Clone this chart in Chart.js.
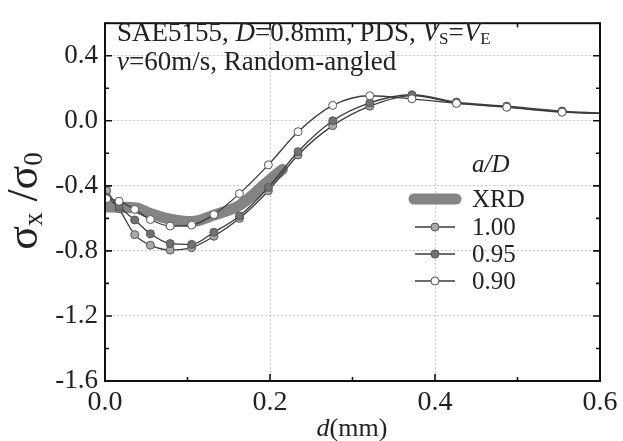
<!DOCTYPE html>
<html>
<head>
<meta charset="utf-8">
<script src="https://cdn.jsdelivr.net/npm/chart.js@4.4.1/dist/chart.umd.min.js"></script>
<style>
  html, body { margin: 0; padding: 0; background: #fff; }
  #chart { display: block; }
</style>
</head>
<body>
<canvas id="chart" width="623" height="441"></canvas>
<script>
// depth positions of the calculated points (mm)
const depth = [0.002, 0.017, 0.036, 0.055, 0.079, 0.105, 0.132, 0.163, 0.198, 0.234, 0.276, 0.321, 0.372, 0.426, 0.487, 0.554, 0.6];

// sigma_x / sigma_0 for each a/D
const ratio100 = [-0.43, -0.54, -0.70, -0.765, -0.795, -0.78, -0.71, -0.60, -0.43, -0.21, -0.03, 0.09, 0.155, 0.11, 0.085, 0.055, 0.045];
const ratio095 = [-0.47, -0.53, -0.61, -0.695, -0.755, -0.76, -0.685, -0.585, -0.41, -0.19, 0.0, 0.11, 0.16, 0.115, 0.09, 0.06, 0.048];
const ratio090 = [-0.48, -0.495, -0.545, -0.607, -0.647, -0.641, -0.577, -0.448, -0.271, -0.067, 0.095, 0.154, 0.135, 0.107, 0.083, 0.053, 0.045];

// measured (XRD) band
const xrdDepth = [0.0, 0.036, 0.055, 0.079, 0.105, 0.132, 0.163, 0.198, 0.215];
const xrdRatio = [-0.53, -0.535, -0.57, -0.605, -0.62, -0.58, -0.52, -0.37, -0.30];

const seriesLabels = ["XRD", "1.00", "0.95", "0.90"];
const xTicks = [0.0, 0.2, 0.4, 0.6];
const yTicks = [-1.6, -1.2, -0.8, -0.4, 0.0, 0.4];

const SERIF = "'Liberation Serif', 'Times New Roman', serif";
const lineColor = "#3c3c3c";

const pts = (xs, ys) => xs.map((x, i) => ({ x: x, y: ys[i] }));
const lastHidden = (ctx) => (ctx.dataIndex === depth.length - 1 ? 0 : 4);

const datasets = [
  {
    label: seriesLabels[0], data: pts(xrdDepth, xrdRatio),
    borderColor: "#848484", borderWidth: 11, borderCapStyle: "round",
    pointRadius: 0, cubicInterpolationMode: "monotone", order: 4
  },
  {
    label: seriesLabels[1], data: pts(depth, ratio100),
    borderColor: lineColor, borderWidth: 1.3, pointBackgroundColor: "#a9a9a9",
    pointBorderColor: "#555", pointBorderWidth: 1, pointRadius: lastHidden,
    cubicInterpolationMode: "monotone", order: 3
  },
  {
    label: seriesLabels[2], data: pts(depth, ratio095),
    borderColor: lineColor, borderWidth: 1.3, pointBackgroundColor: "#727272",
    pointBorderColor: "#555", pointBorderWidth: 1, pointRadius: lastHidden,
    cubicInterpolationMode: "monotone", order: 2
  },
  {
    label: seriesLabels[3], data: pts(depth, ratio090),
    borderColor: lineColor, borderWidth: 1.3, pointBackgroundColor: "#ffffff",
    pointBorderColor: "#555", pointBorderWidth: 1, pointRadius: lastHidden,
    cubicInterpolationMode: "monotone", order: 1
  }
];

// write a row of text pieces (normal / italic / subscript) starting at x
function drawRuns(ctx, x, y, runs, size) {
  for (const r of runs) {
    const fs = r.sub ? Math.round(size * 0.62) : size;
    ctx.font = (r.italic ? "italic " : "") + fs + "px " + SERIF;
    ctx.fillText(r.t, x, r.sub ? y + size * 0.12 : y);
    x += ctx.measureText(r.t).width;
  }
  return x;
}
function runsWidth(ctx, runs, size) {
  let w = 0;
  for (const r of runs) {
    const fs = r.sub ? Math.round(size * 0.62) : size;
    ctx.font = (r.italic ? "italic " : "") + fs + "px " + SERIF;
    w += ctx.measureText(r.t).width;
  }
  return w;
}

const decor = {
  id: "decor",
  afterDraw(chart) {
    const ctx = chart.ctx;
    const a = chart.chartArea;
    const xs = chart.scales.x, ys = chart.scales.y;
    ctx.save();

    // frame and inward ticks
    ctx.strokeStyle = "#111";
    ctx.lineWidth = 2;
    ctx.strokeRect(a.left, a.top, a.right - a.left, a.bottom - a.top);
    ctx.lineWidth = 1.6;
    ctx.beginPath();
    for (let v = 0; v <= 0.6001; v += 0.1) {
      const px = xs.getPixelForValue(v);
      const len = Math.round(v * 10) % 2 === 0 ? 7 : 4;
      ctx.moveTo(px, a.bottom); ctx.lineTo(px, a.bottom - len);
      ctx.moveTo(px, a.top); ctx.lineTo(px, a.top + len);
    }
    for (let v = -1.6; v <= 0.6001; v += 0.2) {
      const py = ys.getPixelForValue(v);
      const len = Math.round((v + 1.6) * 5) % 2 === 0 ? 7 : 4;
      ctx.moveTo(a.left, py); ctx.lineTo(a.left + len, py);
      ctx.moveTo(a.right, py); ctx.lineTo(a.right - len, py);
    }
    ctx.stroke();

    ctx.fillStyle = "#222";
    ctx.textBaseline = "alphabetic";
    ctx.textAlign = "left";

    // annotation in the upper left corner
    drawRuns(ctx, 117, 41, [
      { t: "SAE5155, " }, { t: "D", italic: true }, { t: "=0.8mm, PDS, " },
      { t: "V", italic: true }, { t: "S", sub: true }, { t: "=" },
      { t: "V", italic: true }, { t: "E", sub: true }
    ], 27);
    drawRuns(ctx, 117, 70, [{ t: "v", italic: true }, { t: "=60m/s, Random-angled" }], 27);

    // x title
    const xt = [{ t: "d", italic: true }, { t: "(mm)" }];
    drawRuns(ctx, 352 - runsWidth(ctx, xt, 26) / 2, 436, xt, 26);

    // y title, rotated
    ctx.save();
    ctx.translate(37, 201);
    ctx.rotate(-Math.PI / 2);
    const yt = [{ t: "\u03C3" }, { t: "x", sub: true }, { t: " /" }, { t: "\u03C3" }, { t: "0", sub: true }];
    const w = runsWidth(ctx, yt, 44);
    drawRuns(ctx, -w / 2, 0, yt, 44);
    ctx.restore();

    // legend
    ctx.font = "italic 25px " + SERIF;
    ctx.fillText("a/D", 472, 172);
    const rows = [199, 227, 254, 281];
    chart.data.datasets.forEach((ds, i) => {
      const y = rows[i];
      ctx.beginPath();
      if (i === 0) {
        ctx.lineWidth = ds.borderWidth;
        ctx.lineCap = "round";
        ctx.strokeStyle = ds.borderColor;
        ctx.moveTo(414, y); ctx.lineTo(456, y);
        ctx.stroke();
      } else {
        ctx.lineWidth = ds.borderWidth;
        ctx.lineCap = "butt";
        ctx.strokeStyle = ds.borderColor;
        ctx.moveTo(415, y); ctx.lineTo(455, y);
        ctx.stroke();
        ctx.beginPath();
        ctx.arc(435, y, 4, 0, Math.PI * 2);
        ctx.fillStyle = ds.pointBackgroundColor;
        ctx.fill();
        ctx.lineWidth = 1;
        ctx.strokeStyle = ds.pointBorderColor;
        ctx.stroke();
      }
      ctx.fillStyle = "#222";
      ctx.font = "25px " + SERIF;
      ctx.textBaseline = "middle";
      ctx.fillText(ds.label, 472, y + 1);
      ctx.textBaseline = "alphabetic";
    });
    ctx.restore();
  }
};

new Chart(document.getElementById("chart"), {
  type: "line",
  data: { datasets: datasets },
  plugins: [decor],
  options: {
    responsive: false,
    animation: false,
    layout: { padding: { left: 0, right: 23, top: 11, bottom: 0 } },
    plugins: { legend: { display: false }, tooltip: { enabled: false } },
    scales: {
      x: {
        type: "linear", min: 0, max: 0.6,
        afterFit: (s) => { s.height = 60; },
        afterBuildTicks: (s) => { s.ticks = xTicks.map((v) => ({ value: v })); },
        grid: { color: (c) => (c.tick.value > 0 && c.tick.value < 0.6 ? "#c8c8c8" : "rgba(0,0,0,0)"), drawTicks: false, lineWidth: 1 },
        border: { display: false, dash: [2, 2] },
        ticks: { color: "#222", padding: 5, maxRotation: 0, font: { family: SERIF, size: 28 }, callback: (v) => Number(v).toFixed(1) }
      },
      y: {
        type: "linear", min: -1.6, max: 0.6,
        afterFit: (s) => { s.width = 105; },
        afterBuildTicks: (s) => { s.ticks = yTicks.map((v) => ({ value: v })); },
        grid: { color: (c) => (c.tick.value > -1.6 ? "#c8c8c8" : "rgba(0,0,0,0)"), drawTicks: false, lineWidth: 1 },
        border: { display: false, dash: [2, 2] },
        ticks: { color: "#222", padding: 7, font: { family: SERIF, size: 27 }, callback: (v) => (Math.abs(v) < 1e-9 ? "0.0" : Number(v).toFixed(1)) }
      }
    }
  }
});
</script>
</body>
</html>
